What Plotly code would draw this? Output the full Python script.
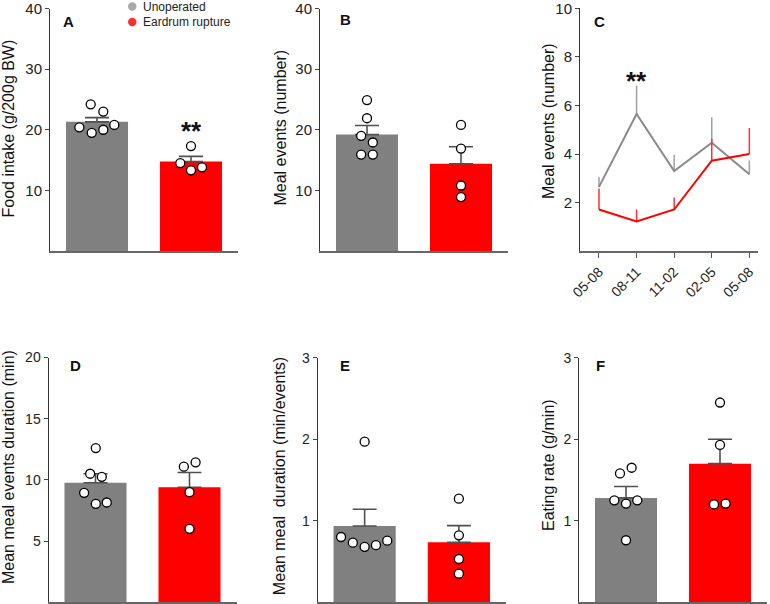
import plotly.graph_objects as go

W, H = 770, 604
FONT = "Liberation Sans, Arial, sans-serif"
GRAY = "#808080"
RED = "#ff0000"

groups = ["Unoperated", "Eardrum rupture"]

# Panel A: Food intake (g/200g BW)
A_mean = [21.3, 14.75]
A_sem = [0.7, 0.85]
A_gray_pts = [24.2, 23.0, 20.4, 19.5, 20.0, 20.8]
A_red_pts = [17.3, 14.5, 13.3, 13.8]

# Panel B: Meal events (number)
B_mean = [19.2, 14.4]
B_sem = [1.5, 2.8]
B_gray_pts = [24.9, 21.9, 19.0, 17.9, 15.9, 15.9]
B_red_pts = [20.8, 16.9, 10.8, 8.9]

# Panel C: Meal events over time of day
C_labels = ["05-08", "08-11", "11-02", "02-05", "05-08"]
C_gray_mean = [2.65, 5.65, 3.3, 4.47, 3.17]
C_gray_sem = [0.41, 1.17, 0.67, 1.05, 0.57]
C_red_mean = [1.72, 1.23, 1.72, 3.73, 4.0]
C_red_sem = [0.86, 0.49, 0.49, 0.9, 1.07]

# Panel D: Mean meal events duration (min)
D_mean = [9.76, 9.4]
D_sem = [0.74, 1.2]
D_gray_pts = [12.6, 10.5, 10.25, 8.94, 8.04, 8.15]
D_red_pts = [11.08, 11.43, 8.99, 6.0]

# Panel E: Mean meal duration (min/events)
E_mean = [0.935, 0.735]
E_sem = [0.205, 0.205]
E_gray_pts = [1.97, 0.80, 0.73, 0.68, 0.70, 0.755]
E_red_pts = [1.27, 0.82, 0.53, 0.35]

# Panel F: Eating rate (g/min)
F_mean = [1.28, 1.70]
F_sem = [0.14, 0.30]
F_gray_pts = [1.58, 1.65, 1.25, 1.21, 1.25, 0.76]
F_red_pts = [2.45, 1.93, 1.20, 1.21]

# scatter offsets (swarm layout) for the individual points
A_gray_jit = [-0.067, 0.067, -0.188, -0.056, 0.067, 0.184]
A_red_jit = [0.0, -0.114, 0.0, 0.117]
B_gray_jit = [0.0, 0.0, -0.062, 0.062, -0.062, 0.062]
B_red_jit = [0.0, 0.0, 0.0, 0.0]
D_gray_jit = [0.003, -0.057, 0.067, -0.121, 0.003, 0.120]
D_red_jit = [-0.06, 0.065, 0.0, 0.0]
E_gray_jit = [0.0, -0.25, -0.125, 0.0, 0.12, 0.24]
E_red_jit = [0.0, 0.0, 0.0, 0.0]
F_gray_jit = [-0.064, 0.060, -0.124, 0.0, 0.12, 0.0]
F_red_jit = [0.0, 0.0, -0.064, 0.06]


def px(x):
    return x / W


def py(y):
    return 1 - y / H


fig = go.Figure()

# pixel boxes of each plot area: (left, right, top, bottom)
boxes = {
    1: (50, 238, 8.5, 251),
    2: (320, 508, 8.5, 251),
    3: (580, 758, 8.3, 251.3),
    4: (48.5, 236.5, 357.5, 602.2),
    5: (317.5, 506, 357.7, 602.2),
    6: (579, 767, 357.7, 602.2),
}

bar_panels = [
    (1, A_mean, A_sem, A_gray_pts, A_red_pts, A_gray_jit, A_red_jit, [0, 40], [10, 20, 30, 40], 15),
    (2, B_mean, B_sem, B_gray_pts, B_red_pts, B_gray_jit, B_red_jit, [0, 40], [10, 20, 30, 40], 15),
    (4, D_mean, D_sem, D_gray_pts, D_red_pts, D_gray_jit, D_red_jit, [0, 20], [5, 10, 15, 20], 14),
    (5, E_mean, E_sem, E_gray_pts, E_red_pts, E_gray_jit, E_red_jit, [0, 3], [1, 2, 3], 14),
    (6, F_mean, F_sem, F_gray_pts, F_red_pts, F_gray_jit, F_red_jit, [0, 3], [1, 2, 3], 14),
]

layout_axes = {}


def axis_names(i):
    return ("x" if i == 1 else f"x{i}"), ("y" if i == 1 else f"y{i}")


for (i, means, sems, gpts, rpts, gj, rj, yr, yt, tfs) in bar_panels:
    xa, ya = axis_names(i)
    fig.add_trace(go.Bar(
        x=[0, 1], y=means, width=0.66,
        marker=dict(color=[GRAY, RED], line=dict(width=0)),
        error_y=dict(type="data", symmetric=False, array=sems, arrayminus=[0, 0],
                     color="#505050", thickness=1.6, width=12),
        xaxis=xa, yaxis=ya, showlegend=False, hoverinfo="skip"))
    for k, (pts, jit) in enumerate([(gpts, gj), (rpts, rj)]):
        fig.add_trace(go.Scatter(
            x=[k + j for j in jit], y=pts, mode="markers",
            marker=dict(size=9, color="white", line=dict(color="black", width=1.3)),
            xaxis=xa, yaxis=ya, showlegend=False, hoverinfo="skip", cliponaxis=False))
    l, r, t, b = boxes[i]
    layout_axes["xaxis" if i == 1 else f"xaxis{i}"] = dict(
        domain=[px(l), px(r)], range=[-0.5, 1.5], showticklabels=False, ticks="",
        showgrid=False, zeroline=False, showline=True, linecolor="#666666", linewidth=2,
        anchor=ya, fixedrange=True, automargin=False)
    layout_axes["yaxis" if i == 1 else f"yaxis{i}"] = dict(
        domain=[py(b), py(t)], range=yr, tickvals=yt, ticks="outside", ticklen=4,
        tickcolor="#444444", tickwidth=1, showgrid=False, zeroline=False,
        showline=True, linecolor="#333333", linewidth=1, automargin=False,
        ticklabeloverflow="allow",
        tickfont=dict(size=tfs, color="#222222", family=FONT), anchor=xa, fixedrange=True)

# Panel C line chart
xs = list(range(len(C_labels)))
fig.add_trace(go.Scatter(
    x=xs, y=C_gray_mean, mode="lines", line=dict(color="#8a8a8a", width=2),
    error_y=dict(type="data", symmetric=False, array=C_gray_sem, arrayminus=[0] * 5,
                 color="#a0a0a0", thickness=1.5, width=0),
    xaxis="x3", yaxis="y3", showlegend=False, hoverinfo="skip"))
fig.add_trace(go.Scatter(
    x=xs, y=C_red_mean, mode="lines", line=dict(color=RED, width=2),
    error_y=dict(type="data", symmetric=False, array=C_red_sem, arrayminus=[0] * 5,
                 color="#ff3030", thickness=1.5, width=0),
    xaxis="x3", yaxis="y3", showlegend=False, hoverinfo="skip"))
l, r, t, b = boxes[3]
layout_axes["xaxis3"] = dict(
    domain=[px(l), px(r)], range=[-0.505, 4.23], tickvals=xs, ticktext=C_labels,
    tickangle=-45, ticks="outside", ticklen=5, tickcolor="#555555", showgrid=False,
    zeroline=False, showline=True, linecolor="#666666", linewidth=2, automargin=False,
    ticklabeloverflow="allow",
    tickfont=dict(size=14, color="#222222", family=FONT), anchor="y3", fixedrange=True)
layout_axes["yaxis3"] = dict(
    domain=[py(b), py(t)], range=[0, 10], tickvals=[2, 4, 6, 8, 10], ticks="outside",
    ticklen=4, tickcolor="#444444", showgrid=False, zeroline=False, showline=True,
    linecolor="#333333", linewidth=1, tickfont=dict(size=15, color="#222222", family=FONT),
    anchor="x3", fixedrange=True, automargin=False, ticklabeloverflow="allow")

annotations = []


def text(x, y, s, size, bold=False, angle=0, xanchor="center", yanchor="middle", color="#111111"):
    annotations.append(dict(
        x=px(x), y=py(y), xref="paper", yref="paper", text=f"<b>{s}</b>" if bold else s,
        showarrow=False, textangle=angle, xanchor=xanchor, yanchor=yanchor,
        font=dict(size=size, family=FONT, color=color)))


# panel letters
for s, x, y in [("A", 68, 21), ("B", 345, 20), ("C", 599, 21),
                ("D", 75, 365), ("E", 345, 365), ("F", 600, 365)]:
    text(x, y, s, 15, bold=True)

# significance stars
text(191, 131, "**", 26, bold=True)
text(636.7, 81, "**", 26, bold=True)

# y-axis titles
text(8, 128.5, "Food intake (g/200g BW)", 16, angle=-90)
text(280, 127.5, "Meal events (number)", 16, angle=-90)
text(549, 121, "Meal events (number)", 16, angle=-90)
text(8, 467, "Mean meal events duration (min)", 16, angle=-90)
text(279.5, 476.7, "Mean meal  duration (min/events)", 16, angle=-90)
text(548, 465, "Eating rate (g/min)", 16, angle=-90)

# legend
legend_items = [(groups[0], "#a8a8a8", 6.5), (groups[1], "#ff3030", 22)]
shapes = []
for name, col, yy in legend_items:
    shapes.append(dict(type="circle", xref="paper", yref="paper",
                       x0=px(128), x1=px(136.5), y0=py(yy + 4.2), y1=py(yy - 4.2),
                       fillcolor=col, line=dict(width=0)))
    text(140.5, yy, name, 12, xanchor="left", color="#222222")

fig.update_layout(
    width=W, height=H, margin=dict(l=0, r=0, t=0, b=0, pad=0, autoexpand=False),
    paper_bgcolor="white", plot_bgcolor="white", showlegend=False,
    font=dict(family=FONT, color="#222222"),
    annotations=annotations, shapes=shapes, barmode="overlay",
    **layout_axes)

fig.write_html(
    "out.html",
    config={"displayModeBar": False, "staticPlot": True},
    post_script="document.body.style.margin='0';document.body.style.padding='0';"
                "document.body.style.overflow='hidden';")
